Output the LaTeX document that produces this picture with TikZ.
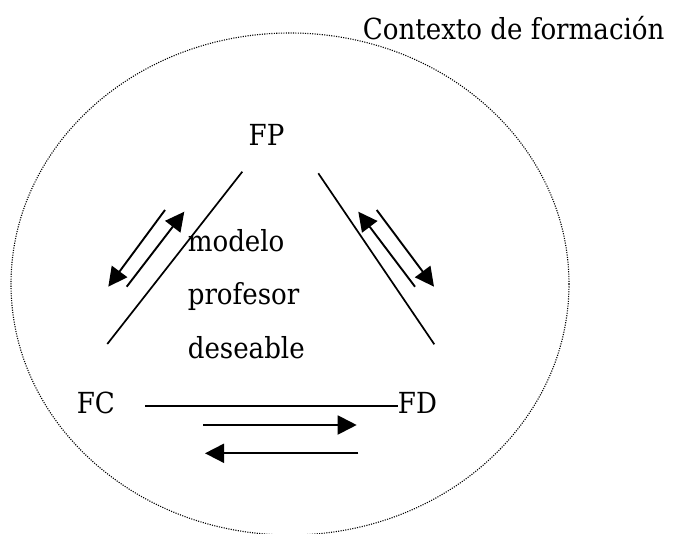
\documentclass[tikz,border=0pt]{standalone}
\usepackage{fontspec}
\setmainfont{DejaVu Serif Condensed}
\usetikzlibrary{arrows.meta}
\tikzset{
  lbl/.style={font=\fontsize{29}{35}\selectfont, inner sep=0pt},
  bar/.style={line width=1.7pt},
  arr/.style={line width=1.9pt, -{Triangle[length=19pt,width=19pt]}},
  ctxline/.style={line width=1.1pt, dash pattern=on 1.1pt off 1.3pt},
}
\begin{document}
\begin{tikzpicture}[x=1pt,y=-1pt]
      \useasboundingbox (0,0) rectangle (674,534);
      \draw[ctxline] (290,284) ellipse [x radius=279, y radius=251];
      \path
        (266.5,146) node[lbl,anchor=base] (fp){FP}
        (95.8,413.3) node[lbl,anchor=base] (fc){FC}
        (397.7,413.3) node[lbl,anchor=base west] (fd){FD}
        (362.7,40) node[lbl,anchor=base west] (ctx){Contexto de formación}
        (187.6,252) node[lbl,anchor=base west] (m1){modelo}
        (187.6,305) node[lbl,anchor=base west] (m2){profesor}
        (187.6,358) node[lbl,anchor=base west] (m3){deseable};
      \path
        (242.3,171.7) coordinate (pc1)
        (107.3,344) coordinate (pc2)
        (318.3,173.3) coordinate (pd1)
        (434.3,344.3) coordinate (pd2)
        (145,406) coordinate (cd1)
        (165,210) coordinate (a1)
        (108.3,286.7) coordinate (a2)
        (126.7,286.7) coordinate (a3)
        (184.3,211.7) coordinate (a4)
        (415,286.7) coordinate (b1)
        (358.3,211.7) coordinate (b2)
        (376.7,210) coordinate (b3)
        (434,286.7) coordinate (b4)
        (203.3,425) coordinate (c1)
        (356.7,425) coordinate (c2)
        (358.3,453.3) coordinate (c3)
        (205,453.3) coordinate (c4);
      \begin{scope}[bar]
        \draw (pc1) to (pc2);
        \draw (pd1) to (pd2);
        \draw (cd1) to (fd.west |- cd1);
      \end{scope}
      \begin{scope}[arr]
        \draw (a1) to (a2);
        \draw (a3) to (a4);
        \draw (b1) to (b2);
        \draw (b3) to (b4);
        \draw (c1) to (c2);
        \draw (c3) to (c4);
      \end{scope}
    \end{tikzpicture}
\end{document}
